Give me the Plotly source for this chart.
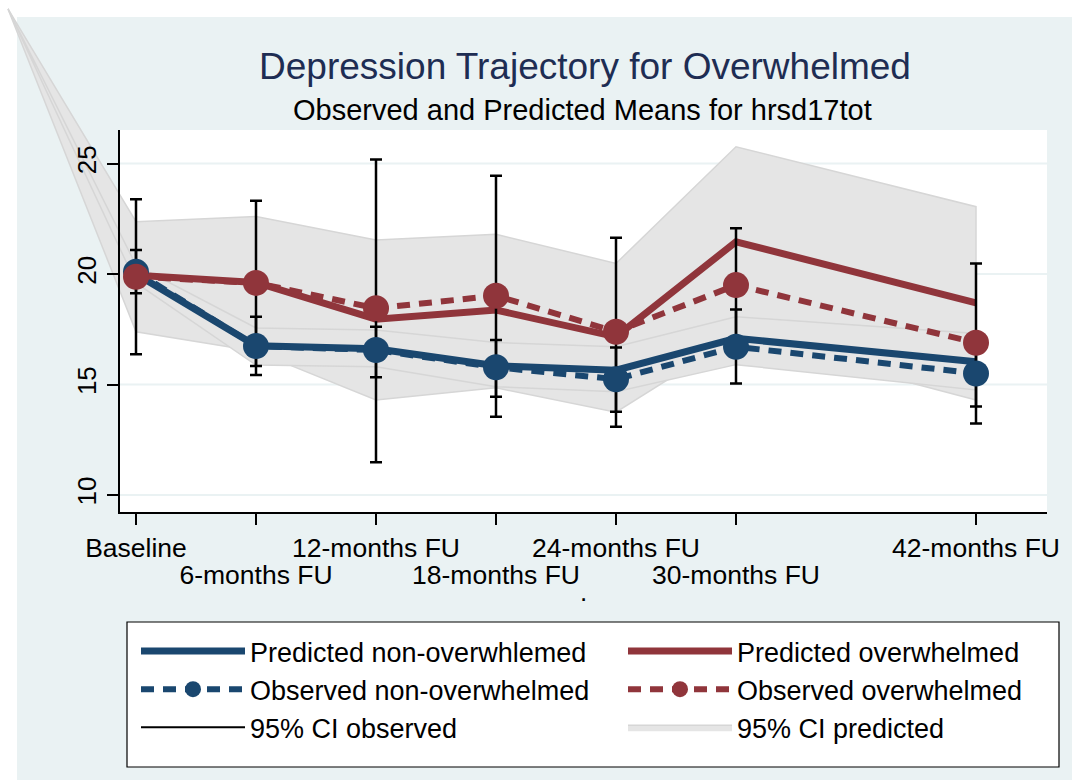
import plotly.graph_objects as go

# ---- data -------------------------------------------------------------
months = [0, 6, 12, 18, 24, 30, 42]
tick_labels = ["Baseline", "6-months FU", "12-months FU", "18-months FU",
               "24-months FU", "30-months FU", "42-months FU"]

pred_non = [20.00, 16.75, 16.62, 15.85, 15.65, 17.09, 16.03]
pred_ovw = [19.95, 19.62, 17.96, 18.37, 17.16, 21.46, 18.70]
obs_non = [20.10, 16.74, 16.56, 15.78, 15.24, 16.71, 15.50]
obs_ovw = [19.88, 19.60, 18.45, 19.02, 17.39, 19.50, 16.89]

ci_obs_non_lo = [19.13, 15.43, 15.33, 14.45, 13.77, 15.05, 14.00]
ci_obs_non_hi = [21.09, 18.07, 17.62, 17.01, 16.67, 18.40, 17.00]
ci_obs_ovw_lo = [16.37, 15.84, 11.48, 13.54, 13.09, 16.93, 13.24]
ci_obs_ovw_hi = [23.39, 23.32, 25.19, 24.45, 21.64, 22.07, 20.48]

# predicted-CI series; they carry a leading point at -6.4 months
band_months = [-6.4, 0, 6, 12, 18, 24, 30, 42]
ci_pred_non_lo = [32.0, 19.60, 15.88, 15.80, 14.90, 14.67, 15.90, 14.75]
ci_pred_non_hi = [32.0, 20.40, 17.56, 17.47, 16.90, 16.71, 18.07, 17.31]
ci_pred_ovw_lo = [32.0, 17.39, 16.50, 14.30, 14.85, 13.75, 17.16, 14.30]
ci_pred_ovw_hi = [32.0, 22.37, 22.60, 21.54, 21.80, 20.48, 25.76, 23.05]

y_ticks = [10, 15, 20, 25]

# ---- styling ----------------------------------------------------------
W, H = 1072, 780
PLOT_L, PLOT_R, PLOT_T, PLOT_B = 119.5, 1047.0, 130.0, 512.0
X_RANGE = [-0.825, 45.55]
Y_RANGE = [9.23, 26.52]

NAVY = "rgb(26,71,111)"
MAROON = "rgb(144,53,59)"
BAND = "rgb(229,229,229)"
BAND_EDGE = "rgb(214,214,214)"
REGION = "rgb(234,242,243)"
FONT = "Liberation Sans, Arial, Helvetica, sans-serif"

# The data traces live on full-figure axes ("x"/"y") that share the scale of
# the visible axes ("x2"/"y2"), so the bands can run past the plot area while
# the visible axes, drawn later, stay on top.
xpp = (X_RANGE[1] - X_RANGE[0]) / (PLOT_R - PLOT_L)
ypp = (Y_RANGE[1] - Y_RANGE[0]) / (PLOT_B - PLOT_T)
FULL_X_RANGE = [X_RANGE[0] - PLOT_L * xpp, X_RANGE[1] + (W - PLOT_R) * xpp]
FULL_Y_RANGE = [Y_RANGE[0] - (H - PLOT_B) * ypp, Y_RANGE[1] + PLOT_T * ypp]


def band_polygon(xs, lo, hi):
    return xs + xs[::-1], hi + lo[::-1]


fig = go.Figure()

for lo, hi in [(ci_pred_ovw_lo, ci_pred_ovw_hi),
               (ci_pred_non_lo, ci_pred_non_hi)]:
    bx, by = band_polygon(band_months, lo, hi)
    fig.add_trace(go.Scatter(
        x=bx, y=by, mode="lines", fill="toself", fillcolor=BAND,
        line=dict(color=BAND_EDGE, width=1.5), showlegend=False,
        xaxis="x", yaxis="y", hoverinfo="skip"))

fig.add_trace(go.Scatter(
    x=months, y=pred_non, mode="lines", name="Predicted non-overwhlemed",
    line=dict(color=NAVY, width=7), legend="legend", legendrank=1,
    xaxis="x", yaxis="y"))
fig.add_trace(go.Scatter(
    x=months, y=pred_ovw, mode="lines", name="Predicted overwhelmed",
    line=dict(color=MAROON, width=7), legend="legend2", legendrank=1,
    xaxis="x", yaxis="y"))

for mean, lo, hi in [(obs_non, ci_obs_non_lo, ci_obs_non_hi),
                     (obs_ovw, ci_obs_ovw_lo, ci_obs_ovw_hi)]:
    fig.add_trace(go.Scatter(
        x=months, y=mean, mode="markers", marker=dict(opacity=0, size=2),
        error_y=dict(type="data", symmetric=False,
                     array=[h - m for h, m in zip(hi, mean)],
                     arrayminus=[m - l for m, l in zip(mean, lo)],
                     color="black", thickness=2.5, width=6),
        showlegend=False, xaxis="x", yaxis="y", hoverinfo="skip"))

fig.add_trace(go.Scatter(
    x=months, y=obs_non, mode="lines+markers", name="Observed non-overwhelmed",
    line=dict(color=NAVY, width=6, dash="13px,9px"),
    marker=dict(color=NAVY, size=26), legend="legend", legendrank=2,
    xaxis="x", yaxis="y"))
fig.add_trace(go.Scatter(
    x=months, y=obs_ovw, mode="lines+markers", name="Observed overwhelmed",
    line=dict(color=MAROON, width=6, dash="13px,9px"),
    marker=dict(color=MAROON, size=26), legend="legend2", legendrank=2,
    xaxis="x", yaxis="y"))

# legend-only entries; they also anchor the visible axes
fig.add_trace(go.Scatter(
    x=[None], y=[None], mode="lines", name="95% CI observed",
    line=dict(color="black", width=2), legend="legend", legendrank=3,
    xaxis="x2", yaxis="y2"))
fig.add_trace(go.Scatter(
    x=[None], y=[None], mode="lines", fill="toself", fillcolor=BAND,
    line=dict(color=BAND_EDGE, width=1.5), name="95% CI predicted",
    legend="legend2", legendrank=3, xaxis="x3", yaxis="y2"))

legend_style = dict(orientation="v", yanchor="top", xanchor="left",
                    y=1 - 627 / H, bgcolor="rgba(0,0,0,0)", borderwidth=0,
                    font=dict(size=27, family=FONT), itemwidth=104,
                    traceorder="normal")

axis_common = dict(range=X_RANGE, tickmode="array", showgrid=False,
                   zeroline=False, tickangle=0, fixedrange=True,
                   tickfont=dict(size=26.5, family=FONT, color="black"))

grid_shapes = [dict(type="line", xref="paper", yref="y2", layer="below",
                    x0=PLOT_L / W, x1=PLOT_R / W, y0=v, y1=v,
                    line=dict(color=REGION, width=2)) for v in y_ticks]

fig.update_layout(
    width=W, height=H,
    margin=dict(l=0, r=0, t=0, b=0, autoexpand=False),
    paper_bgcolor="white", plot_bgcolor="rgba(0,0,0,0)",
    font=dict(family=FONT, color="black"),
    showlegend=True,
    title=dict(text="Depression Trajectory for Overwhelmed",
               font=dict(size=37, color="rgb(30,45,83)", family=FONT),
               x=585 / W, xanchor="center", xref="paper",
               y=1 - 66 / H, yanchor="middle", yref="paper"),
    annotations=[
        dict(text="Observed and Predicted Means for hrsd17tot",
             x=582 / W, y=1 - 110 / H, xref="paper", yref="paper",
             xanchor="center", yanchor="middle", showarrow=False,
             font=dict(size=29, color="black", family=FONT)),
        dict(text=".", x=583 / W, y=1 - 592 / H, xref="paper", yref="paper",
             xanchor="center", yanchor="middle", showarrow=False,
             font=dict(size=26, color="black", family=FONT)),
    ],
    xaxis=dict(domain=[0, 1], range=FULL_X_RANGE, visible=False,
               anchor="y", fixedrange=True),
    yaxis=dict(domain=[0, 1], range=FULL_Y_RANGE, visible=False,
               anchor="x", fixedrange=True),
    # visible axes: first row of time labels
    xaxis2=dict(axis_common, domain=[PLOT_L / W, PLOT_R / W],
                tickvals=months,
                ticktext=[t if i % 2 == 0 else ""
                          for i, t in enumerate(tick_labels)],
                ticks="outside", ticklen=11, tickwidth=1.5, tickcolor="black",
                showline=True, linecolor="black", linewidth=1.5,
                ticklabelstandoff=0, anchor="y2"),
    # staggered second row of time labels
    xaxis3=dict(axis_common, overlaying="x2", anchor="y2", side="bottom",
                tickvals=months[1::2], ticktext=tick_labels[1::2],
                ticks="", showline=False, ticklabelstandoff=44),
    yaxis2=dict(domain=[1 - PLOT_B / H, 1 - PLOT_T / H], range=Y_RANGE,
                tickmode="array", tickvals=y_ticks,
                ticks="outside", ticklen=11, tickwidth=1.5, tickcolor="black",
                showline=True, linecolor="black", linewidth=1.5,
                showgrid=False, zeroline=False, tickangle=-90,
                tickfont=dict(size=26, family=FONT, color="black"),
                anchor="x2", fixedrange=True),
    legend=dict(legend_style, x=136 / W),
    legend2=dict(legend_style, x=623 / W),
    shapes=[
        dict(type="rect", xref="paper", yref="paper", layer="below",
             x0=17 / W, x1=1, y0=0, y1=1 - 17 / H,
             fillcolor=REGION, line=dict(width=0)),
        dict(type="rect", xref="paper", yref="paper", layer="below",
             x0=PLOT_L / W, x1=PLOT_R / W, y0=1 - PLOT_B / H, y1=1 - PLOT_T / H,
             fillcolor="white", line=dict(width=0)),
        dict(type="rect", xref="paper", yref="paper", layer="below",
             x0=127 / W, x1=1059 / W, y0=1 - 767 / H, y1=1 - 622 / H,
             fillcolor="white", line=dict(color="black", width=1.2)),
    ] + grid_shapes,
)

fig.write_html("out.html")
